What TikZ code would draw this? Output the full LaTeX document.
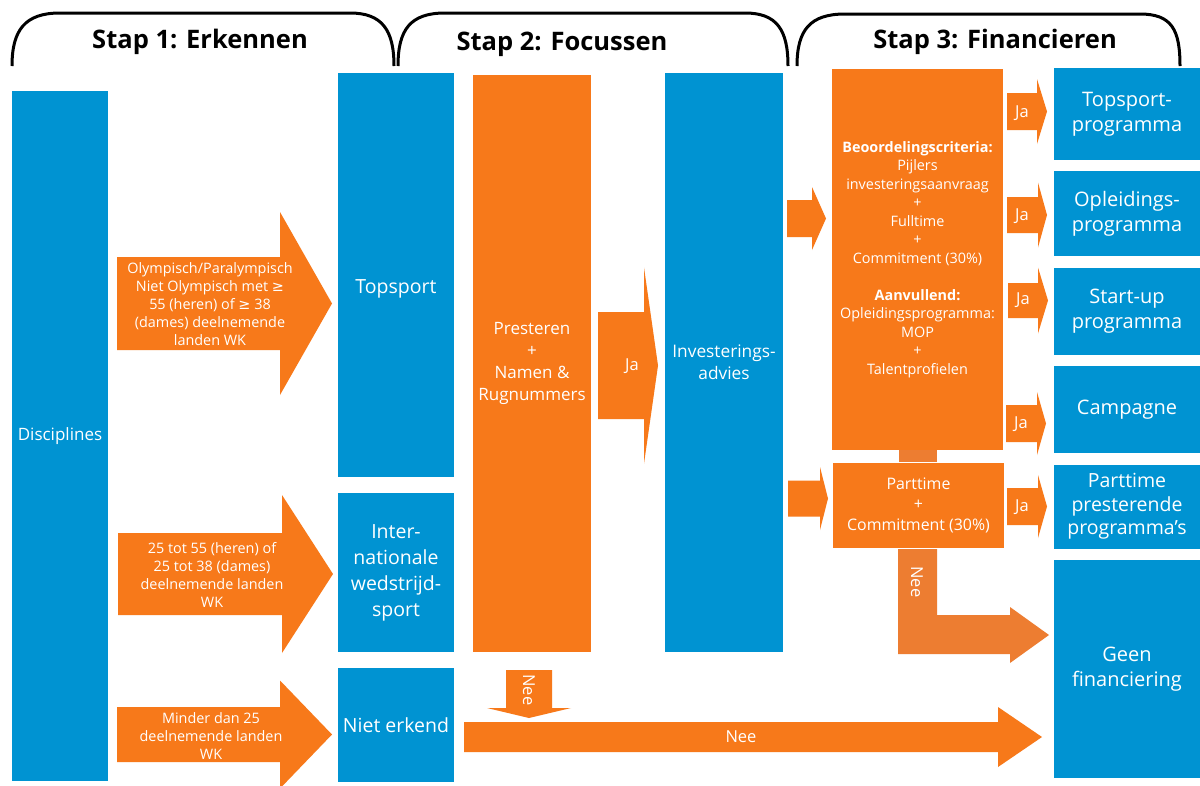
\documentclass[tikz,border=0pt]{standalone}
\usepackage{fontspec}
\setmainfont{Open Sans}
\newfontfamily\symfont{DejaVu Sans}
\usetikzlibrary{positioning}
\definecolor{boxblue}{RGB}{0,147,210}
\definecolor{boxorange}{RGB}{247,121,26}
\definecolor{neeorange}{RGB}{237,125,49}
\tikzset{
x=1pt, y=-1pt, % pixel-like coordinates, y runs downwards
bluebox/.style={rectangle, fill=boxblue, text=white, inner sep=0pt, align=center}, % blue blocks
orangebox/.style={bluebox, fill=boxorange}, % orange blocks
arrowtext/.style={text=white, align=center, inner sep=0pt, font=\fontsize{14.4}{18}\selectfont}, % text on the fat arrows
jatext/.style={arrowtext, font=\fontsize{16.5}{19}\selectfont}, % Ja / Nee labels
header/.style={font=\fontsize{25.5}{30}\selectfont\bfseries}, % the three step titles
bracket/.style={line width=3pt, black}, % curved line over each step
}
% fat arrow: style, tail x, head base x, tip x, centre y, half shaft, half head
\newcommand{\harrow}[7]{\fill[#1] (#2,#5-#6) -- (#3,#5-#6) -- (#3,#5-#7) -- (#4,#5) -- (#3,#5+#7) -- (#3,#5+#6) -- (#2,#5+#6) -- cycle;}
\newcommand{\gesym}{{\symfont ≥}}

\begin{document}
\begin{tikzpicture}
        \useasboundingbox[fill=white] (0,0) rectangle (1200,785);

        % Step headers
        \draw[bracket] (12,66) .. controls (12,30) and (25,13) .. (60,13) -- (350,13) .. controls (382,13) and (394,30) .. (394,66);
        \draw[bracket] (398,66) .. controls (398,30) and (410,13) .. (445,13) -- (745,13) .. controls (777,13) and (788,30) .. (788,66);
        \draw[bracket] (797,66) .. controls (797,30) and (810,14) .. (845,14) -- (1140,14) .. controls (1172,14) and (1180,30) .. (1180,66);
        \node[header] (stap1) at (200,42) {Stap 1: Erkennen};
        \node[header] (stap2) at (562,44) {Stap 2: Focussen};
        \node[header] (stap3) at (995,42) {Stap 3: Financieren};

        % Stap 1
        \node[bluebox, minimum width=96pt, minimum height=690pt, font=\fontsize{17}{20}\selectfont] (disc) at (60,436) {Disciplines};
        \node[bluebox, minimum width=116pt, minimum height=404pt] (tops) at (396,275) {};
        \node[text=white, font=\fontsize{19.5}{24}\selectfont] (topslabel) at (396,289) {Topsport};
        \node[bluebox, minimum width=116pt, minimum height=159pt, below=16pt of tops, font=\fontsize{19.5}{26.3}\selectfont] (intl) {Inter-\\nationale\\wedstrijd-\\sport};
        \node[bluebox, minimum width=116pt, minimum height=114pt, below=15pt of intl, font=\fontsize{19.5}{24}\selectfont] (niet) {Niet erkend};

        \harrow{boxorange}{117}{280}{332}{303.5}{46.5}{91.5}
        \node[arrowtext] (olytext) at (210,304) {Olympisch/Paralympisch\\Niet Olympisch met \gesym\\55 (heren) of \gesym\ 38\\(dames) deelnemende\\landen WK};
        \harrow{boxorange}{118}{282}{333}{574}{41}{79}
        \node[arrowtext] (intltext) at (212,575) {25 tot 55 (heren) of\\25 tot 38 (dames)\\deelnemende landen\\WK};
        \harrow{boxorange}{117}{280}{332}{734.5}{27.5}{54}
        \node[arrowtext] (niettext) at (211,736) {Minder dan 25\\deelnemende landen\\WK};

        % Stap 2
        \node[orangebox, minimum width=118pt, minimum height=577pt, font=\fontsize{17}{22}\selectfont] (prest) at (532,363.5) {Presteren\\+\\Namen \&\\Rugnummers};
        \node[bluebox, minimum width=118pt, minimum height=579pt, font=\fontsize{17.3}{22}\selectfont] (invest) at (724,362.5) {Investerings-\\advies};
        \harrow{boxorange}{598}{644}{658}{365.5}{53.5}{98}
        \node[jatext] (jaadvies) at (632,366) {Ja};

        % Nee from Stap 2 to Geen financiering
        \fill[boxorange] (506,670) -- (552,670) -- (552,708) -- (571,708) -- (529,718) -- (487,708) -- (506,708) -- cycle;
        \node[jatext, rotate=-90] (needown) at (529,690) {Nee};
        \harrow{boxorange}{464}{998}{1042}{737}{15}{30}
        \node[jatext] (neelong) at (741,737) {Nee};

        % Stap 3
        \node[orangebox, minimum width=171pt, minimum height=381pt, font=\fontsize{14.4}{18.5}\selectfont] (crit) at (917.5,259.5) {\textbf{Beoordelingscriteria:}\\Pijlers\\investeringsaanvraag\\+\\Fulltime\\+\\Commitment (30\%)\\[18.5pt]\textbf{Aanvullend:}\\Opleidingsprogramma:\\MOP\\+\\Talentprofielen};
        \node[orangebox, minimum width=171pt, minimum height=85pt, font=\fontsize{15.9}{20.5}\selectfont] (part) at (918.5,505) {Parttime\\+\\Commitment (30\%)};
        \draw[neeorange, line width=38pt] (crit.south) -- (crit.south |- part.north);
        \harrow{boxorange}{787}{812}{826}{218.5}{18.5}{31.5}
        \harrow{boxorange}{788}{820}{828}{498.5}{18}{31.5}

        \node[bluebox, minimum width=146pt, minimum height=92pt, font=\fontsize{20}{25}\selectfont] (topsprog) at (1127,114) {Topsport-\\programma};
        \node[bluebox, minimum width=146pt, minimum height=85pt, below=11pt of topsprog, font=\fontsize{20}{25}\selectfont] (oplprog) {Opleidings-\\programma};
        \node[bluebox, minimum width=146pt, minimum height=87pt, below=11pt of oplprog, font=\fontsize{20}{25}\selectfont] (startprog) {Start-up\\programma};
        \node[bluebox, minimum width=146pt, minimum height=87pt, below=11pt of startprog, font=\fontsize{20}{25}\selectfont] (campagne) {Campagne};
        \node[bluebox, minimum width=146pt, minimum height=84pt, below=11pt of campagne, font=\fontsize{19.5}{23.5}\selectfont] (partprog) {Parttime\\presterende\\programma’s};
        \node[bluebox, minimum width=146pt, minimum height=218pt, below=11pt of partprog, font=\fontsize{20}{25}\selectfont] (geen) {Geen\\financiering};

        % Ja arrows to the programmes
        \harrow{boxorange}{1007}{1037}{1047}{111.5}{18.5}{32.5}
        \node[jatext] (ja1) at (1022,113) {Ja};
        \harrow{boxorange}{1007}{1038}{1047}{215}{18}{32.5}
        \node[jatext] (ja2) at (1022,216) {Ja};
        \harrow{boxorange}{1008}{1038}{1048}{300.5}{17.5}{33}
        \node[jatext] (ja3) at (1023,300) {Ja};
        \harrow{boxorange}{1006}{1037}{1046}{423.5}{18.5}{31.5}
        \node[jatext] (ja4) at (1021,424) {Ja};
        \harrow{boxorange}{1007}{1038}{1047}{506.5}{18.5}{31.5}
        \node[jatext] (ja5) at (1022,507) {Ja};

        % Nee from Parttime to Geen financiering
        \fill[neeorange] (898,549) -- (937,549) -- (937,615) -- (1010,615) -- (1010,607) -- (1049,635) -- (1010,663) -- (1010,654) -- (898,654) -- cycle;
        \node[jatext, rotate=-90] (neepart) at (917,582) {Nee};
\end{tikzpicture}
\end{document}
